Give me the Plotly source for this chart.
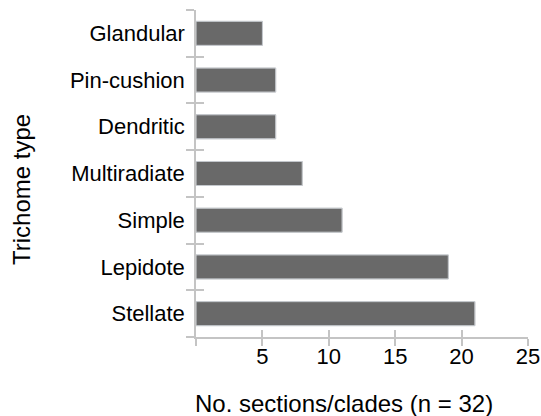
import plotly.graph_objects as go

categories = ["Glandular", "Pin-cushion", "Dendritic", "Multiradiate", "Simple", "Lepidote", "Stellate"]
counts = [5, 6, 6, 8, 11, 19, 21]
x_tickvals = [0, 5, 10, 15, 20, 25]
x_ticktext = ["", "5", "10", "15", "20", "25"]
x_title = "No. sections/clades (n = 32)"
y_title = "Trichome type"

FONT = "Liberation Sans, Arial, Helvetica, sans-serif"
AXC = "#c4c4c4"
order = list(reversed(categories))

fig = go.Figure()
fig.add_trace(go.Bar(
    x=counts, y=categories, orientation="h",
    marker=dict(color="#696969", line=dict(color="#a4a4a4", width=1)),
    showlegend=False, hoverinfo="x+y",
))
# invisible duplicate on overlay axes so category ticks cross the axis line
fig.add_trace(go.Bar(
    x=counts, y=categories, orientation="h", xaxis="x2", yaxis="y2",
    marker=dict(color="rgba(0,0,0,0)"), showlegend=False, hoverinfo="skip",
))

common_x = dict(range=[0, 25], tickmode="array", tickvals=x_tickvals, automargin=False,
                tickcolor=AXC, tickwidth=1.5, ticklen=7, showgrid=False, zeroline=False)
common_y = dict(type="category", categoryorder="array", categoryarray=order,
                range=[-0.5, 6.5], tickson="boundaries", tickcolor=AXC, automargin=False,
                tickwidth=1.5, ticklen=8, showgrid=False, zeroline=False)

fig.update_layout(
    width=541, height=416,
    margin=dict(l=196, r=13, t=10, b=79),
    paper_bgcolor="white", plot_bgcolor="white",
    bargap=0.486,
    font=dict(family=FONT, size=22, color="black"),
    xaxis=dict(**common_x, ticks="outside", ticktext=x_ticktext,
               showline=True, linecolor=AXC, linewidth=1.5,
               tickfont=dict(size=22, color="black"), ticklabelstandoff=-8),
    xaxis2=dict(**common_x, ticks="inside", showticklabels=False,
                overlaying="x", anchor="y", showline=False),
    yaxis=dict(**common_y, ticks="outside", showline=True, linecolor=AXC,
               linewidth=1.5, tickfont=dict(size=22, color="black"),
               ticklabelstandoff=5),
    yaxis2=dict(**common_y, ticks="inside", showticklabels=False,
                overlaying="y", anchor="x", showline=False),
    annotations=[
        dict(text=x_title, xref="paper", yref="paper", x=(343.5 - 196) / 332,
             y=(337 - 403) / 327, xanchor="center", yanchor="middle",
             showarrow=False, font=dict(size=24, color="black", family=FONT)),
        dict(text=y_title, xref="paper", yref="paper", x=(21 - 196) / 332,
             y=(337 - 190) / 327, xanchor="center", yanchor="middle",
             textangle=-90, showarrow=False,
             font=dict(size=24, color="black", family=FONT)),
    ],
)

fig.write_html(
    "out.html",
    config={"displayModeBar": False},
    post_script="document.body.style.margin='0';document.body.style.overflow='hidden';",
)
